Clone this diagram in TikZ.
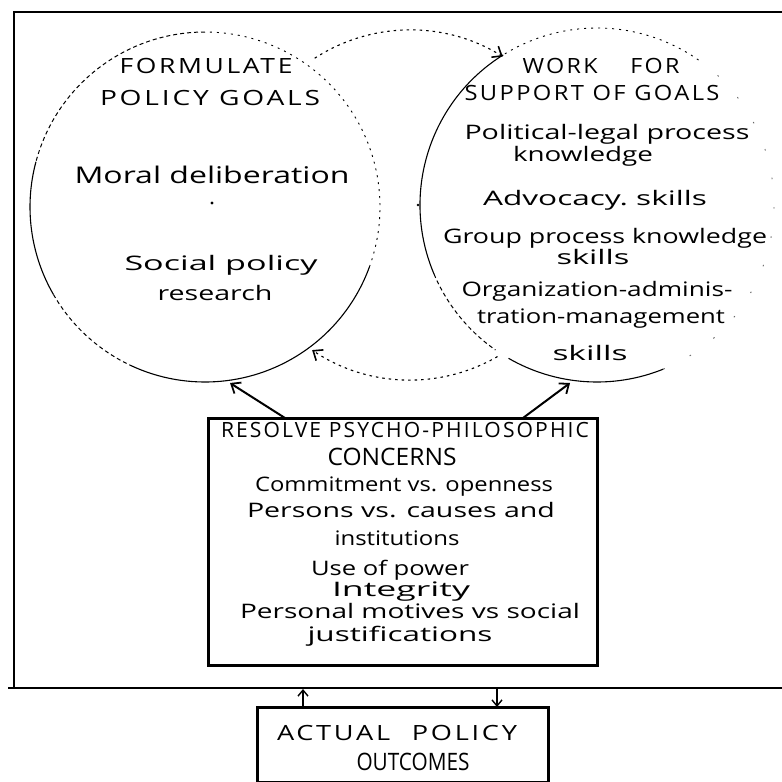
\documentclass[tikz,border=0pt]{standalone}
\usepackage{fontspec}
\setmainfont{Open Sans}
\newfontfamily\capsfont[LetterSpace=10]{Open Sans}
\usepackage{graphicx}
\usetikzlibrary{arrows.meta}
\newlength\fitlen
\newcommand\fitto[2]{\settowidth\fitlen{#2}\pgfmathsetmacro\fitratio{#1/\fitlen}\scalebox{\fitratio}[1]{#2}}
\tikzset{
  lbl/.style={anchor=base, inner sep=0pt, font=\fontsize{20}{22}\selectfont},
  biglbl/.style={anchor=base, inner sep=0pt, font=\fontsize{23}{25}\selectfont},
  capslbl/.style={anchor=base, inner sep=0pt, font=\capsfont\fontsize{21}{23}\selectfont},
  tightcaps/.style={anchor=base, inner sep=0pt, font=\fontsize{24}{26}\selectfont},
  frame/.style={line width=2.5pt},
  bigbox/.style={draw, line width=3pt, inner sep=0pt, outer sep=0pt},
  circsolid/.style={line width=1.1pt},
  circdash/.style={line width=1pt, dash pattern=on 4pt off 3pt},
  circdot/.style={line width=0.9pt, dash pattern=on 2pt off 5pt},
  circfaint/.style={line width=0.9pt, black!60, dash pattern=on 1.5pt off 28pt},
  midarc/.style={line width=1.1pt, dash pattern=on 2.5pt off 4pt,
    -{Straight Barb[length=8pt,width=13pt,line width=1.6pt]}},
  boxarrow/.style={line width=2pt, -{Straight Barb[length=8pt,width=13pt,line width=1.8pt]}},
  smallarrow/.style={line width=1.5pt, -{Straight Barb[length=6pt,width=10pt,line width=1.4pt]}},
  cdot/.style={fill=black}
}
\begin{document}
\begin{tikzpicture}[x=1pt,y=-1pt]
\fill[white] (0,0) rectangle (782,782);
\useasboundingbox (0,0) rectangle (782,782);

% frame
\draw[frame] (790,12) -- (14,12) -- (14,688);
\draw[frame] (8,688) -- (790,688);

% circle centres
\coordinate (L) at (205,207);
\coordinate (M) at (410,205);
\coordinate (R) at (597,205);

% left circle
\draw[circdash] ([shift={(270:175)}]L) arc[start angle=270,end angle=195,radius=175];
\draw[circsolid] ([shift={(195:175)}]L) arc[start angle=195,end angle=150,radius=175];
\draw[circdash] ([shift={(150:175)}]L) arc[start angle=150,end angle=115,radius=175];
\draw[circsolid] ([shift={(115:175)}]L) arc[start angle=115,end angle=20,radius=175];
\draw[circdot] ([shift={(20:175)}]L) arc[start angle=20,end angle=-90,radius=175];

% right circle
\draw[circdot] ([shift={(305:177)}]R) arc[start angle=305,end angle=238,radius=177];
\draw[circsolid] ([shift={(238:177)}]R) arc[start angle=238,end angle=157,radius=177];
\draw[circdash] ([shift={(157:177)}]R) arc[start angle=157,end angle=125,radius=177];
\draw[circsolid] ([shift={(120:177)}]R) arc[start angle=120,end angle=68,radius=177];
\draw[circfaint] ([shift={(68:177)}]R) arc[start angle=68,end angle=-55,radius=177];

% middle cycle arcs
\draw[midarc] ([shift={(237:175)}]M) arc[start angle=237,end angle=302,radius=175];
\draw[midarc] ([shift={(60:175)}]M) arc[start angle=60,end angle=124,radius=175];

% centre marks
\fill[cdot] (212,203) circle[radius=1.6];
\fill[cdot] (418,205) circle[radius=1.4];

% left circle text
\node[capslbl] (t1) at (206,73) {\fitto{173}{FORMULATE}};
\node[capslbl] (t2) at (210,105) {\fitto{220}{POLICY GOALS}};
\node[biglbl] (t3) at (212,183) {\fitto{275}{Moral deliberation}};
\node[lbl] (t4) at (221,270) {\fitto{193}{Social policy}};
\node[lbl] (t5) at (215,300) {\fitto{115}{research}};

% right circle text
\node[capslbl] (t6) at (601,73) {\fitto{157}{WORK\hspace{1.4em}FOR}};
\node[capslbl] (t7) at (592,100) {\fitto{255}{SUPPORT OF GOALS}};
\node[lbl] (t8) at (607,139) {\fitto{285}{Political-legal process}};
\node[lbl] (t9) at (583,161) {\fitto{140}{knowledge}};
\node[lbl] (t10) at (595,205) {\fitto{224}{Advocacy.\ skills}};
\node[lbl] (t11) at (605,243) {\fitto{324}{Group process knowledge}};
\node[lbl] (t12) at (593,264) {\fitto{73}{skills}};
\node[lbl] (t13) at (597,296) {\fitto{271}{Organization-adminis-}};
\node[lbl] (t14) at (601,323) {\fitto{248}{tration-management}};
\node[lbl] (t15) at (590,360) {\fitto{75}{skills}};

% resolve box
\node[bigbox, minimum width=389pt, minimum height=247pt] (resolve) at (402.5,541.5) {};
\node[capslbl] (t16) at (405,437) {\fitto{368}{RESOLVE PSYCHO-PHILOSOPHIC}};
\node[tightcaps] (t17) at (392,465) {\fitto{129}{CONCERNS}};
\node[lbl] (t18) at (404,491) {\fitto{298}{Commitment vs. openness}};
\node[lbl] (t19) at (401,517) {\fitto{308}{Persons vs. causes and}};
\node[lbl] (t20) at (397,545) {\fitto{125}{institutions}};
\node[lbl] (t21) at (390,575) {\fitto{158}{Use of power}};
\node[lbl] (t22) at (401,596) {\fitto{138}{Integrity}};
\node[lbl] (t23) at (410,618) {\fitto{340}{Personal motives vs social}};
\node[lbl] (t24) at (400,641) {\fitto{185}{justifications}};

% arrows from box to circles
\coordinate (lt) at (230,383);
\coordinate (rt) at (570,383);
\draw[boxarrow] ([xshift=77pt]resolve.north west) -- (lt);
\draw[boxarrow] ([xshift=315pt]resolve.north west) -- (rt);

% actual policy outcomes
\node[bigbox, minimum width=291pt, minimum height=75.5pt] (act) at (402.5,744.75) {};
\node[capslbl] (t25) at (397,740) {\fitto{240}{ACTUAL\hspace{0.8em}POLICY}};
\node[tightcaps] (t26) at (413,770) {\fitto{113}{OUTCOMES}};

\coordinate (fu) at (303,689);
\coordinate (fd) at (497,689);
\draw[smallarrow] ([xshift=46pt]act.north west) -- (fu);
\draw[smallarrow] (fd) -- ([xshift=240pt]act.north west);
\end{tikzpicture}
\end{document}
